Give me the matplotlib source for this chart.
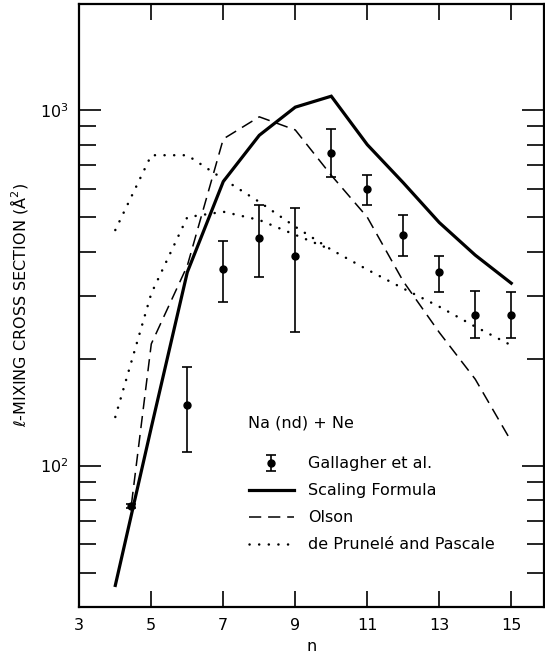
import matplotlib
matplotlib.use('Agg')
import matplotlib.pyplot as plt
from matplotlib.ticker import FixedLocator, NullFormatter, LogFormatterMathtext
import numpy as np

# --- data ---
n_scaling = [4, 5, 6, 7, 8, 9, 10, 11, 12, 13, 14, 15]
sigma_scaling = [46, 128, 350, 630, 850, 1020, 1095, 800, 625, 483, 391, 326]

n_olson = [4.45, 5, 6, 7, 8, 9, 10, 11, 12, 13, 14, 15]
sigma_olson = [78, 220, 365, 830, 958, 880, 656, 500, 330, 237, 175, 117]

n_dp_upper = [4, 5, 6, 7, 8, 9, 10, 11, 12, 13, 14, 15]
sigma_dp_upper = [460, 747, 747, 640, 552, 470, 405, 356, 315, 280, 246, 218]
n_dp_lower = [4, 5, 6, 7, 8, 9, 10]
sigma_dp_lower = [137, 305, 500, 518, 491, 446, 405]

n_exp = [4.45, 6, 7, 8, 9, 10, 11, 12, 13, 14, 15]
sigma_exp = [77, 148, 357, 436, 389, 759, 600, 446, 350, 265, 265]
sigma_exp_lo = [76, 109, 289, 340, 238, 649, 540, 389, 307, 228, 228]
sigma_exp_hi = [78, 189, 428, 541, 529, 885, 659, 507, 389, 309, 307]

x_ticks = [3, 5, 7, 9, 11, 13, 15]

plt.rcParams['font.family'] = ['DejaVu Sans']
FS = 11.5

fig = plt.figure(figsize=(5.45, 6.56), dpi=100)
ax = fig.add_axes([79.3 / 545, 49 / 656, (544 - 79.3) / 545, 603 / 656])

ax.set_yscale('log')
ax.set_xlim(3, 15.91)
ax.set_ylim(40, 1990)

yerr = [np.array(sigma_exp) - np.array(sigma_exp_lo),
        np.array(sigma_exp_hi) - np.array(sigma_exp)]
h_exp = ax.errorbar(n_exp, sigma_exp, yerr=yerr, fmt='o', color='black',
                    ms=5, elinewidth=1.2, capsize=3.5, capthick=1.2,
                    label='Gallagher et al.')
h_sc, = ax.plot(n_scaling, sigma_scaling, color='black', lw=2.3,
                solid_joinstyle='miter', label='Scaling Formula')
h_ol, = ax.plot(n_olson, sigma_olson, color='black', lw=1.1,
                dashes=(8, 4.5), label='Olson')
h_dp, = ax.plot(n_dp_upper, sigma_dp_upper, color='black', lw=1.8,
                dashes=(0.05, 3.8), dash_capstyle='round',
                label='de Prunelé and Pascale')
ax.plot(n_dp_lower, sigma_dp_lower, color='black', lw=1.8,
        dashes=(0.05, 3.8), dash_capstyle='round')

# ticks
ax.xaxis.set_major_locator(FixedLocator(x_ticks))
ax.tick_params(axis='x', which='major', direction='in', length=11.5, width=1.2,
               top=True, bottom=True, labelsize=FS, pad=8)
ax.tick_params(axis='x', which='minor', bottom=False, top=False)
ax.yaxis.set_major_locator(FixedLocator([100, 1000]))
ax.yaxis.set_major_formatter(LogFormatterMathtext())
minor = [m * 10 ** k for k in (1, 2, 3) for m in range(2, 10)]
ax.yaxis.set_minor_locator(FixedLocator(minor))
ax.yaxis.set_minor_formatter(NullFormatter())
ax.tick_params(axis='y', which='major', direction='in', length=16, width=1.2,
               left=True, right=True, labelsize=FS, pad=8)
ax.tick_params(axis='y', which='minor', direction='in', length=12, width=1.2,
               left=True, right=True)

for s in ax.spines.values():
    s.set_linewidth(1.6)

ax.set_xlabel('n', fontsize=FS, labelpad=4)
ax.set_ylabel('ℓ-MIXING CROSS SECTION (Å$^2$)', fontsize=FS, labelpad=7)

ax.text(0.363, 0.305, 'Na (nd) + Ne', transform=ax.transAxes,
        fontsize=FS, ha='left', va='center')
ax.legend(handles=[h_exp, h_sc, h_ol, h_dp], loc='upper left',
          bbox_to_anchor=(0.365, 0.250), frameon=False, fontsize=FS,
          borderpad=0, borderaxespad=0, handlelength=2.8,
          handletextpad=0.9, labelspacing=0.75)

fig.savefig('out.png', dpi=100)
